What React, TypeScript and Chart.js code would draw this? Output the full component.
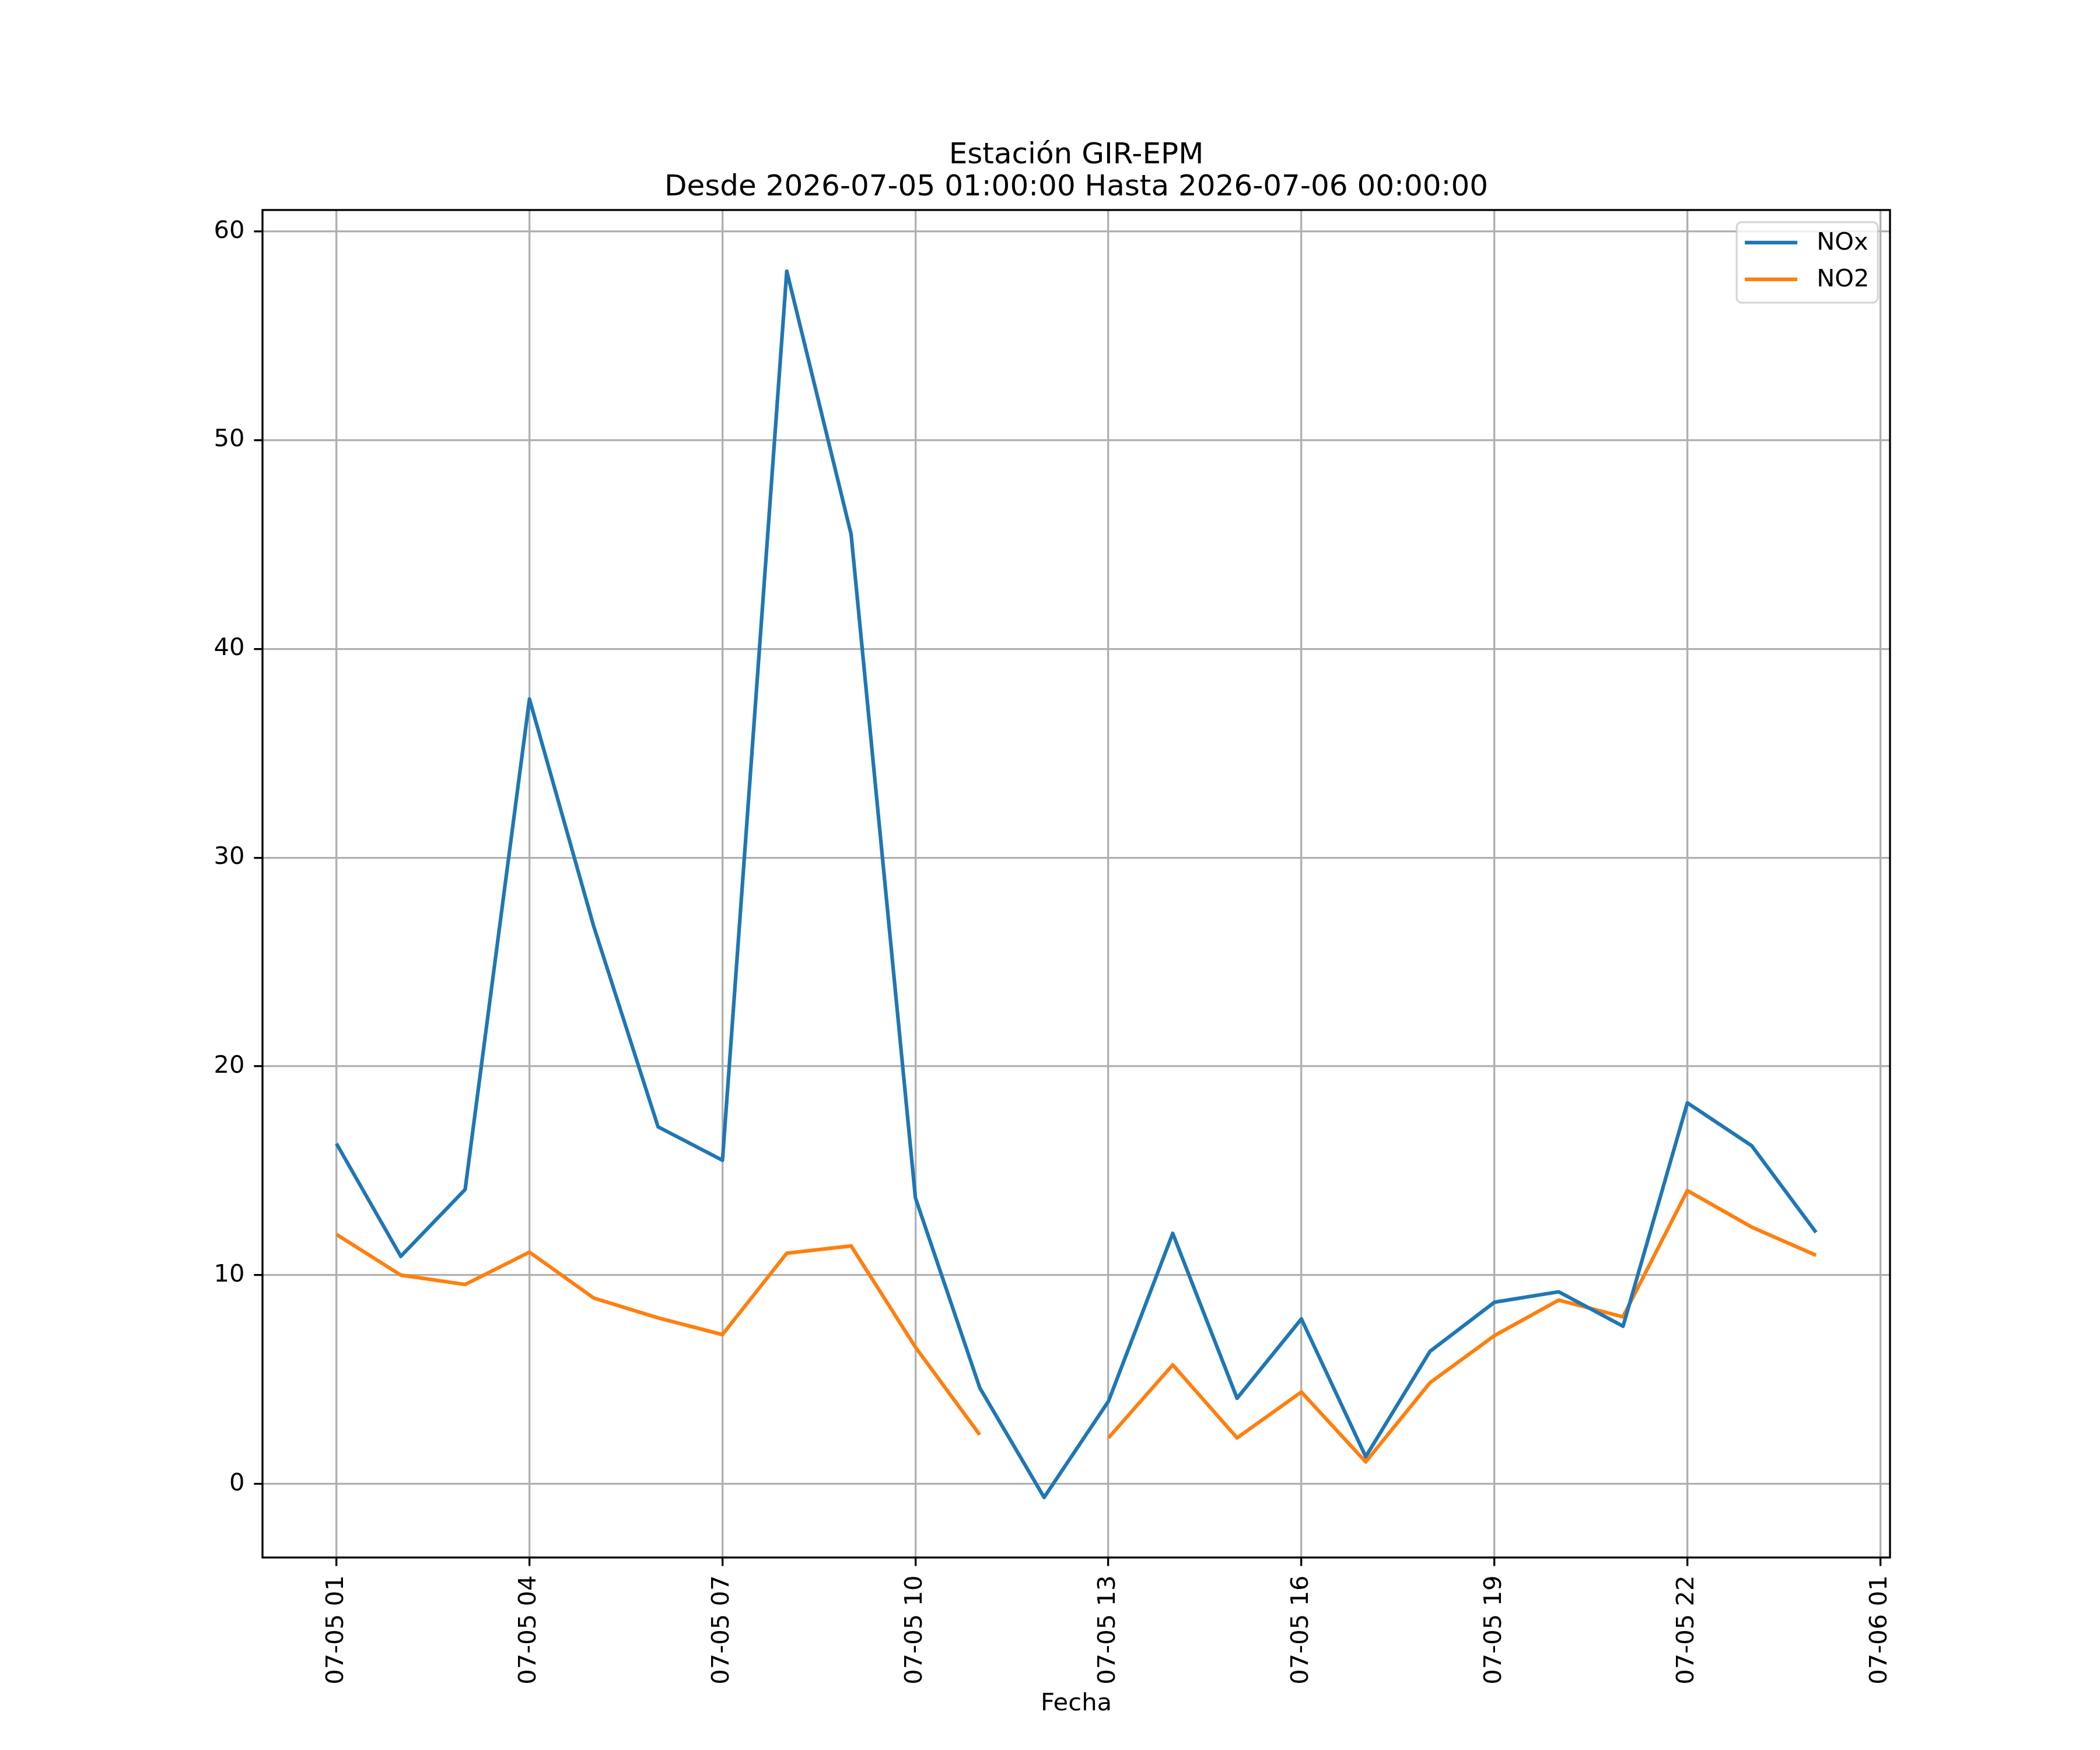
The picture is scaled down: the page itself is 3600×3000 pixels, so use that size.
import { useEffect, useRef } from 'react'
import { Chart, registerables } from 'chart.js'

Chart.register(...registerables)

// hours since 2026-07-05 00:00
const hours = [1, 2, 3, 4, 5, 6, 7, 8, 9, 10, 11, 12, 13, 14, 15, 16, 17, 18, 19, 20, 21, 22, 23, 24]

const noxValues = [16.3, 10.9, 14.1, 37.6, 26.7, 17.1, 15.5, 58.1, 45.5, 13.7, 4.6, -0.65,
  3.95, 12.0, 4.1, 7.9, 1.3, 6.35, 8.7, 9.2, 7.55, 18.25, 16.2, 12.05]

const no2Values = [11.95, 10.0, 9.55, 11.1, 8.9, 7.95, 7.15, 11.05, 11.4, 6.55, 2.35, null,
  2.2, 5.7, 2.2, 4.4, 1.05, 4.85, 7.1, 8.8, 8.0, 14.05, 12.3, 10.95]

const xTickHours = [1, 4, 7, 10, 13, 16, 19, 22, 25]
const xTickLabels = ['07-05 01', '07-05 04', '07-05 07', '07-05 10', '07-05 13', '07-05 16', '07-05 19', '07-05 22', '07-06 01']
const yTicks = [0, 10, 20, 30, 40, 50, 60]

const titleLines = ['Estación GIR-EPM', 'Desde 2026-07-05 01:00:00 Hasta 2026-07-06 00:00:00']

const FONT = "'DejaVu Sans', sans-serif"
const PX = 300 / 72 // matplotlib points -> pixels at 300 dpi

// title, frame and legend the way matplotlib draws them
const mplExtras = {
  id: 'mplExtras',
  afterDatasetsDraw(chart: any) {
    const { ctx, chartArea: a } = chart
    ctx.save()
    ctx.strokeStyle = '#000'
    ctx.lineWidth = 0.8 * PX
    ctx.strokeRect(a.left, a.top, a.right - a.left, a.bottom - a.top)
    ctx.restore()
  },
  afterDraw(chart: any) {
    const { ctx, chartArea: a } = chart
    ctx.save()

    // title
    const cx = (a.left + a.right) / 2
    ctx.fillStyle = '#000'
    ctx.font = `${12 * PX}px ${FONT}`
    ctx.textAlign = 'center'
    ctx.textBaseline = 'alphabetic'
    ctx.fillText(titleLines[0], cx, a.top - 80)
    ctx.fillText(titleLines[1], cx, a.top - 25)

    // legend
    const fs = 10 * PX
    const boxRight = a.right - 0.5 * fs
    const boxTop = a.top + 0.5 * fs
    const boxW = 242
    const boxH = 138
    const boxLeft = boxRight - boxW
    const r = 0.2 * fs
    ctx.beginPath()
    ctx.moveTo(boxLeft + r, boxTop)
    ctx.arcTo(boxRight, boxTop, boxRight, boxTop + boxH, r)
    ctx.arcTo(boxRight, boxTop + boxH, boxLeft, boxTop + boxH, r)
    ctx.arcTo(boxLeft, boxTop + boxH, boxLeft, boxTop, r)
    ctx.arcTo(boxLeft, boxTop, boxRight, boxTop, r)
    ctx.closePath()
    ctx.fillStyle = 'rgba(255,255,255,0.8)'
    ctx.fill()
    ctx.strokeStyle = 'rgba(204,204,204,0.8)'
    ctx.lineWidth = 0.8 * PX
    ctx.stroke()

    ctx.font = `${fs}px ${FONT}`
    ctx.textAlign = 'left'
    ctx.textBaseline = 'middle'
    chart.data.datasets.forEach((ds: any, i: number) => {
      const y = boxTop + 35 + i * 63
      ctx.strokeStyle = ds.borderColor
      ctx.lineWidth = 1.5 * PX
      ctx.beginPath()
      ctx.moveTo(boxLeft + 14, y)
      ctx.lineTo(boxLeft + 104, y)
      ctx.stroke()
      ctx.fillStyle = '#000'
      ctx.fillText(ds.label, boxLeft + 137, y + 1)
    })
    ctx.restore()
  },
}

export default function App() {
  const chartRef = useRef<HTMLCanvasElement>(null)
  const chartInstance = useRef<Chart | null>(null)

  useEffect(() => {
    if (!chartRef.current) return
    if (chartInstance.current) chartInstance.current.destroy()

    const ctx = chartRef.current.getContext('2d')
    if (!ctx) return

    const data = {
      datasets: [
        {
          label: 'NOx',
          data: hours.map((h, i) => ({ x: h, y: noxValues[i] })),
          borderColor: '#1f77b4',
          backgroundColor: '#1f77b4',
        },
        {
          label: 'NO2',
          data: hours.map((h, i) => ({ x: h, y: no2Values[i] })),
          borderColor: '#ff7f0e',
          backgroundColor: '#ff7f0e',
        },
      ],
    }

    const gridCommon = {
      color: '#b0b0b0',
      lineWidth: 0.8 * PX,
      tickColor: '#000',
      tickWidth: 0.8 * PX,
      tickLength: 3.5 * PX,
    }

    chartInstance.current = new Chart(ctx, {
      type: 'line',
      data: data as any,
      options: {
        responsive: false,
        animation: false,
        devicePixelRatio: 1,
        spanGaps: false,
        elements: {
          line: { borderWidth: 1.5 * PX, tension: 0, borderJoinStyle: 'round', borderCapStyle: 'butt' },
          point: { radius: 0, hoverRadius: 0 },
        },
        layout: { padding: { left: 300, right: 360, top: 360, bottom: 30 } },
        plugins: {
          legend: { display: false },
          title: { display: false },
          tooltip: { enabled: false },
        },
        scales: {
          x: {
            type: 'linear',
            min: -0.15,
            max: 25.15,
            grid: gridCommon,
            border: { display: false },
            afterBuildTicks: (scale: any) => {
              scale.ticks = xTickHours.map((v) => ({ value: v }))
            },
            afterFit: (scale: any) => {
              scale.height = 300
            },
            ticks: {
              autoSkip: false,
              minRotation: 90,
              maxRotation: 90,
              padding: 16,
              color: '#000',
              font: { family: FONT, size: 10 * PX },
              callback: (value: any) => xTickLabels[xTickHours.indexOf(Number(value))] ?? '',
            },
            title: {
              display: true,
              text: 'Fecha',
              color: '#000',
              font: { family: FONT, size: 10 * PX },
              padding: { top: 0, bottom: 24 },
            },
          },
          y: {
            type: 'linear',
            min: -3.53,
            max: 61.03,
            grid: gridCommon,
            border: { display: false },
            afterBuildTicks: (scale: any) => {
              scale.ticks = yTicks.map((v) => ({ value: v }))
            },
            afterFit: (scale: any) => {
              scale.width = 150
            },
            ticks: {
              autoSkip: false,
              padding: 16,
              color: '#000',
              font: { family: FONT, size: 10 * PX },
              callback: (value: any) => String(value),
            },
          },
        },
      },
      plugins: [mplExtras],
    })

    return () => {
      if (chartInstance.current) {
        chartInstance.current.destroy()
        chartInstance.current = null
      }
    }
  }, [])

  return (
    <div style={{ position: 'absolute', left: 0, top: 0, width: 3600, height: 3000, background: '#fff' }}>
      <canvas ref={chartRef} width={3600} height={3000} style={{ display: 'block' }} />
    </div>
  )
}
